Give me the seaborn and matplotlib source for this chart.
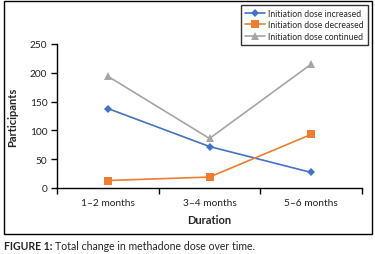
import pandas as pd
import numpy as np
import seaborn as sns
import matplotlib.pyplot as plt
from matplotlib.patches import Rectangle
from matplotlib.ticker import FixedLocator

durations = ['1–2 months', '3–4 months', '5–6 months']
increased = [138, 72, 27]
decreased = [13, 19, 93]
continued = [194, 86, 215]
series_names = ['Initiation dose increased', 'Initiation dose decreased', 'Initiation dose continued']
y_ticks = [0, 50, 100, 150, 200, 250]

sns.set_style('white')
plt.rcParams['font.family'] = ['Lato', 'DejaVu Sans']

df = pd.DataFrame({
    'Duration': durations * 3,
    'Participants': increased + decreased + continued,
    'Series': np.repeat(series_names, len(durations)),
})

fig = plt.figure(figsize=(3.75, 2.55), dpi=100)
ax = fig.add_axes([57 / 375, 1 - 189 / 255, (362 - 57) / 375, (189 - 45) / 255])

palette = {series_names[0]: '#4472C4', series_names[1]: '#ED7D31', series_names[2]: '#A5A5A5'}
markers = {series_names[0]: 'D', series_names[1]: 's', series_names[2]: '^'}
sizes = {series_names[0]: 4, series_names[1]: 6, series_names[2]: 5.5}

for name in series_names:
    sub = df[df['Series'] == name]
    sns.lineplot(data=sub, x='Duration', y='Participants', color=palette[name],
                 marker=markers[name], markersize=sizes[name], markeredgewidth=0,
                 linewidth=1.2, label=name, ax=ax, sort=False)

ax.set_xlim(-0.5, 2.5)
ax.set_ylim(0, 250)
ax.set_yticks(y_ticks)
ax.xaxis.set_major_locator(FixedLocator([-0.5, 0.5, 1.5, 2.5]))
ax.xaxis.set_minor_locator(FixedLocator([0, 1, 2]))
ax.set_xticklabels([], minor=False)
ax.set_xticklabels(durations, minor=True)
ax.tick_params(axis='x', which='major', length=4, width=1, direction='out', color='black')
ax.tick_params(axis='x', which='minor', length=0, labelsize=7.3, pad=7, labelcolor='#222222')
ax.tick_params(axis='y', length=4, width=1, direction='out', color='black', labelsize=7.3, pad=3,
               labelcolor='#222222')
ax.tick_params(bottom=True, left=True)

for side in ['top', 'right']:
    ax.spines[side].set_visible(False)
for side in ['left', 'bottom']:
    ax.spines[side].set_color('black')
    ax.spines[side].set_linewidth(1)

ax.set_xlabel('Duration', fontsize=8, fontweight='bold', labelpad=5)
ax.set_ylabel('Participants', fontsize=8, fontweight='bold', labelpad=8)

leg = ax.legend(loc='upper right', bbox_to_anchor=(368 / 375, 1 - 6 / 255),
                bbox_transform=fig.transFigure, frameon=True, fancybox=False,
                fontsize=6.2, handlelength=2.4, handletextpad=0.3, labelspacing=0.25,
                borderpad=0.5, borderaxespad=0)
leg.get_frame().set_edgecolor('black')
leg.get_frame().set_linewidth(1)

fig.add_artist(Rectangle((4 / 375, 1 - 235 / 255), 368 / 375, 233 / 255,
                         transform=fig.transFigure, fill=False, edgecolor='black', linewidth=1))

cap_y = 1 - 247 / 255
t1 = fig.text(4 / 375, cap_y, 'FIGURE 1: ', fontsize=7.6, fontweight='bold', va='center', ha='left')
renderer = fig.canvas.get_renderer()
bb = t1.get_window_extent(renderer=renderer)
fig.text(bb.x1 / fig.bbox.width, cap_y, 'Total change in methadone dose over time.', fontsize=7.6,
         va='center', ha='left')

fig.savefig('out.png', dpi=100)
